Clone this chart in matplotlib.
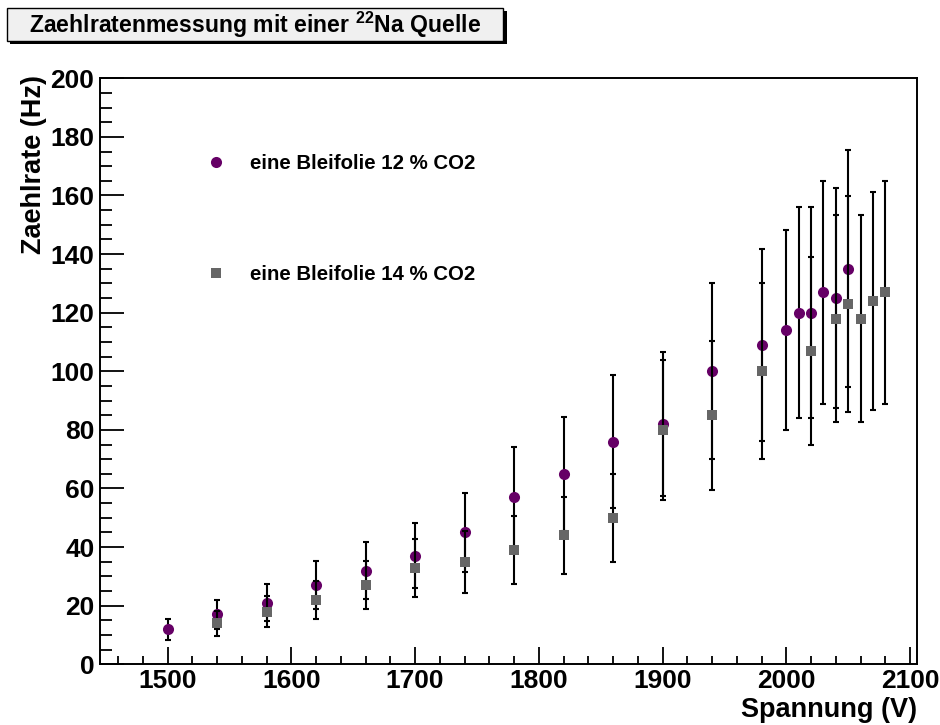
import matplotlib
matplotlib.use('Agg')
import matplotlib.pyplot as plt
from matplotlib.patches import Rectangle
from matplotlib.ticker import MultipleLocator

plt.rcParams['font.family'] = ['Liberation Sans', 'DejaVu Sans']
plt.rcParams['font.weight'] = 'bold'
plt.rcParams['axes.labelweight'] = 'bold'
plt.rcParams['mathtext.fontset'] = 'custom'
plt.rcParams['mathtext.rm'] = 'Liberation Sans:bold'
plt.rcParams['mathtext.it'] = 'Liberation Sans:bold'
plt.rcParams['mathtext.bf'] = 'Liberation Sans:bold'

# Messreihe 1: eine Bleifolie, 12 % CO2
spannung_12 = [1500, 1540, 1580, 1620, 1660, 1700, 1740, 1780, 1820, 1860,
               1900, 1940, 1980, 2000, 2010, 2020, 2030, 2040, 2050]
rate_12 = [12, 17, 21, 27, 32, 37, 45, 57, 65, 76,
           82, 100, 109, 114, 120, 120, 127, 125, 135]
fehler_12 = [3.6, 5.1, 6.3, 8.1, 9.6, 11.1, 13.5, 17.1, 19.5, 22.8,
             24.6, 30.0, 32.7, 34.2, 36.0, 36.0, 38.1, 37.5, 40.5]

# Messreihe 2: eine Bleifolie, 14 % CO2
spannung_14 = [1540, 1580, 1620, 1660, 1700, 1740, 1780, 1820, 1860, 1900,
               1940, 1980, 2020, 2040, 2050, 2060, 2070, 2080]
rate_14 = [14, 18, 22, 27, 33, 35, 39, 44, 50, 80,
           85, 100, 107, 118, 123, 118, 124, 127]
fehler_14 = [4.2, 5.4, 6.6, 8.1, 9.9, 10.5, 11.7, 13.2, 15.0, 24.0,
             25.5, 30.0, 32.1, 35.4, 36.9, 35.4, 37.2, 38.1]

label_12 = 'eine Bleifolie 12 % CO2'
label_14 = 'eine Bleifolie 14 % CO2'

W, H = 940, 725
fig = plt.figure(figsize=(W / 100, H / 100), dpi=100, facecolor='white')


def fx(px):
    return px / W


def fy(py):
    return 1 - py / H


ax = fig.add_axes([fx(100), fy(664.3), fx(916.7) - fx(100), fy(78.3) - fy(664.3)])

# Fehlerbalken und Marker, Reihe fuer Reihe
err_kw = dict(fmt='none', ecolor='black', elinewidth=1.5, capsize=2.0, capthick=1.5)
ax.errorbar(spannung_12, rate_12, yerr=fehler_12, zorder=2, **err_kw)
h12, = ax.plot(spannung_12, rate_12, 'o', color='#660066', markersize=8,
               markeredgewidth=0, zorder=3, label=label_12)
ax.errorbar(spannung_14, rate_14, yerr=fehler_14, zorder=4, **err_kw)
h14, = ax.plot(spannung_14, rate_14, 's', color='#666666', markersize=7.5,
               markeredgewidth=0, zorder=5, label=label_14)

ax.set_xlim(1445.3, 2105.4)
ax.set_ylim(0, 200)

ax.xaxis.set_major_locator(MultipleLocator(100))
ax.xaxis.set_minor_locator(MultipleLocator(20))
ax.yaxis.set_major_locator(MultipleLocator(20))
ax.yaxis.set_minor_locator(MultipleLocator(5))

for sp in ax.spines.values():
    sp.set_linewidth(1.4)
ax.tick_params(axis='both', which='both', direction='in', width=1.3,
               top=False, right=False, labelsize=19)
ax.tick_params(axis='y', which='major', length=17.3, pad=4)
ax.tick_params(axis='y', which='minor', length=8.6)
ax.tick_params(axis='x', which='major', length=12.2, pad=3.5)
ax.tick_params(axis='x', which='minor', length=6.0)

ax.set_xlabel('Spannung (V)', fontsize=19.5, loc='right')
ax.set_ylabel('Zaehlrate (Hz)', fontsize=19.5, loc='top')
ax.xaxis.set_label_coords(1.0, -0.0555)
ax.yaxis.set_label_coords(-0.065, 1.006)

leg = ax.legend(handles=[h12, h14], loc='upper left',
                bbox_to_anchor=(0.1295, 0.871), frameon=False,
                fontsize=14.7, handlelength=1.0, handletextpad=1.17,
                labelspacing=4.5, borderpad=0, borderaxespad=0)

# Titelbox mit Schatten
fig.patches.append(Rectangle((fx(10), fy(44)), fx(497), fy(0) - fy(33),
                             transform=fig.transFigure, facecolor='black',
                             edgecolor='none', zorder=0))
fig.patches.append(Rectangle((fx(7), fy(41)), fx(496), fy(0) - fy(33),
                             transform=fig.transFigure, facecolor='#f0f0f0',
                             edgecolor='black', linewidth=1.0, zorder=1))
fig.text(fx(255), fy(25), r'Zaehlratenmessung mit einer $^{22}$Na Quelle',
         ha='center', va='center', fontsize=16.6, zorder=2)

fig.savefig('out.png', dpi=100, facecolor='white')
